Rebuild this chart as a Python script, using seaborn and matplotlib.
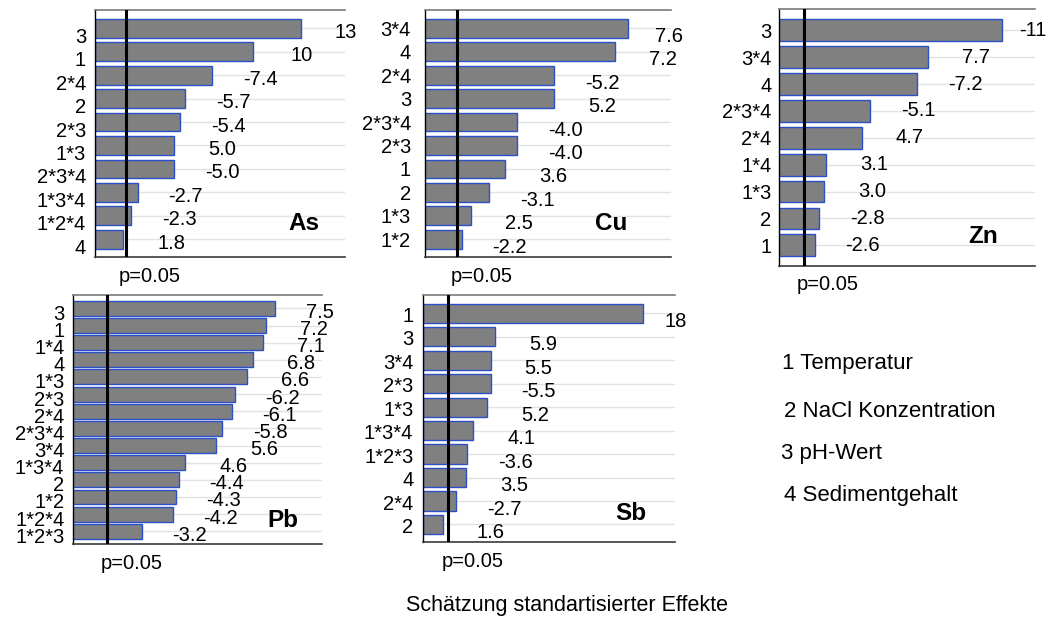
import numpy as np
import matplotlib
matplotlib.use("Agg")
import matplotlib.pyplot as plt
import matplotlib.transforms as mtransforms
import seaborn as sns

# Standardised effects per element (sign shown in label, bar length = |effect|)
as_terms = ["3", "1", "2*4", "2", "2*3", "1*3", "2*3*4", "1*3*4", "1*2*4", "4"]
as_effects = [13, 10, -7.4, -5.7, -5.4, 5.0, -5.0, -2.7, -2.3, 1.8]

cu_terms = ["3*4", "4", "2*4", "3", "2*3*4", "2*3", "1", "2", "1*3", "1*2"]
cu_effects = [7.6, 7.2, -5.2, 5.2, -4.0, -4.0, 3.6, -3.1, 2.5, -2.2]

zn_terms = ["3", "3*4", "4", "2*3*4", "2*4", "1*4", "1*3", "2", "1"]
zn_effects = [-11, 7.7, -7.2, -5.1, 4.7, 3.1, 3.0, -2.8, -2.6]

pb_terms = ["3", "1", "1*4", "4", "1*3", "2*3", "2*4", "2*3*4", "3*4",
            "1*3*4", "2", "1*2", "1*2*4", "1*2*3"]
pb_effects = [7.5, 7.2, 7.1, 6.8, 6.6, -6.2, -6.1, -5.8, 5.6,
              4.6, -4.4, -4.3, -4.2, -3.2]

sb_terms = ["1", "3", "3*4", "2*3", "1*3", "1*3*4", "1*2*3", "4", "2*4", "2"]
sb_effects = [18, 5.9, 5.5, -5.5, 5.2, 4.1, -3.6, 3.5, -2.7, 1.6]

elements = ["As", "Cu", "Zn", "Pb", "Sb"]
p_critical = [1.96, 2.05, 2.1, 2.1, 2.05]

factor_legend = ["1 Temperatur", "2 NaCl Konzentration", "3 pH-Wert", "4 Sedimentgehalt"]
x_title = "Schätzung standartisierter Effekte"

sns.set_theme(style="white")
plt.rcParams["font.family"] = ["Liberation Sans", "DejaVu Sans"]

W, H, DPI = 1053, 619, 100
PT = 72.0 / DPI  # points per pixel
fig = plt.figure(figsize=(W / DPI, H / DPI), dpi=DPI)
fig.patch.set_facecolor("white")


def px_axes(left, right, top, bottom):
    return fig.add_axes([left / W, 1 - bottom / H, (right - left) / W, (bottom - top) / H])


# layout: (axes box in px, xlim, bar width, tick pad px, tick label drop px,
#          value label drop px, element label offset px)
panels = [
    (as_terms, as_effects, (95, 345, 10, 257), (0, 15.8), 0.8, 9, 7, 4, (-41, 34)),
    (cu_terms, cu_effects, (425, 670.7, 10, 257), (1, 9.0), 0.8, 14, 0, 8, (-60, 33)),
    (zn_terms, zn_effects, (779.3, 1035, 9.3, 265.7), (1, 12.5), 0.81, 8, 0, 0, (-52, 29)),
    (pb_terms, pb_effects, (73.3, 321.7, 295, 544.3), (1, 9.0), 0.87, 9, 4, 4, (-39, 24)),
    (sb_terms, sb_effects, (423.3, 675, 295, 542.3), (0, 20.6), 0.82, 10, 1, 8, (-44, 29)),
]

value_texts = []
for (terms, effects, box, xlim, bw, tpad, tdrop, vdrop, toff), name, pc in zip(
        panels, elements, p_critical):
    ax = px_axes(*box)
    mag = np.abs(np.asarray(effects, dtype=float))
    sns.barplot(x=mag, y=terms, orient="h", color="#808080", saturation=1,
                edgecolor="#2b4fc7", linewidth=1.0, width=bw, ax=ax, zorder=2)
    n = len(terms)
    ax.set_xlim(*xlim)
    ax.set_ylim(n - 1 + 0.76, -0.78)
    ax.set_xlabel("")
    ax.set_ylabel("")
    ax.set_xticks([])
    ax.grid(axis="y", color="#e2e2e2", lw=1.0, zorder=0)
    ax.grid(axis="x", visible=False)
    ax.set_axisbelow(True)
    ax.set_facecolor("white")

    ax.spines["right"].set_visible(False)
    ax.spines["top"].set_color("#7a7a7a")
    ax.spines["top"].set_linewidth(1.2)
    ax.spines["bottom"].set_color("#3a3a3a")
    ax.spines["bottom"].set_linewidth(1.2)
    ax.spines["left"].set_color("black")
    ax.spines["left"].set_linewidth(1.0)

    ax.tick_params(axis="y", direction="in", length=2.5, width=0.8, color="#333333",
                   pad=tpad * PT, labelsize=14.5, labelcolor="black")
    shift = mtransforms.ScaledTranslation(0, -tdrop / DPI, fig.dpi_scale_trans)
    for lab in ax.get_yticklabels():
        lab.set_transform(lab.get_transform() + shift)

    # significance threshold
    ax.axvline(pc, color="black", lw=2.2, zorder=4)
    ax.annotate("p=0.05", xy=(pc, 0), xycoords=ax.get_xaxis_transform(),
                xytext=(-7 * PT, -19 * PT), textcoords="offset points",
                ha="left", va="center", fontsize=14.5, color="black",
                annotation_clip=False)

    # effect values next to the bars
    for i, (v, m) in enumerate(zip(effects, mag)):
        txt = f"{v:.0f}" if abs(v) >= 10 else f"{v:.1f}"
        t = ax.annotate(txt, xy=(m, i), xycoords="data",
                        xytext=(48 * PT, -vdrop * PT), textcoords="offset points",
                        ha="center", va="center", fontsize=14.5, color="black",
                        annotation_clip=False, zorder=5)
        value_texts.append((ax, t))

    ax.annotate(name, xy=(1, 0), xycoords="axes fraction",
                xytext=(toff[0] * PT, toff[1] * PT), textcoords="offset points",
                ha="center", va="center", fontsize=17.5, fontweight="bold",
                color="black")

# factor key
legend_pos = [(781.7, 363.3), (784, 411.7), (780.7, 453.3), (784, 495)]
for txt, (lx, ly) in zip(factor_legend, legend_pos):
    fig.text(lx / W, 1 - ly / H, txt, ha="left", va="center", fontsize=16, color="black")

fig.text(567.5 / W, 1 - 605 / H, x_title, ha="center", va="center",
         fontsize=15.5, color="black")

# keep value labels from running far past the plot area
fig.canvas.draw()
renderer = fig.canvas.get_renderer()
for ax, t in value_texts:
    limit = ax.get_window_extent(renderer).x1 + 12
    bb = t.get_window_extent(renderer)
    if bb.x1 > limit:
        dx, dy = t.xyann
        t.xyann = (dx - (bb.x1 - limit) * PT, dy)

fig.savefig("out.png", dpi=DPI, facecolor="white")
